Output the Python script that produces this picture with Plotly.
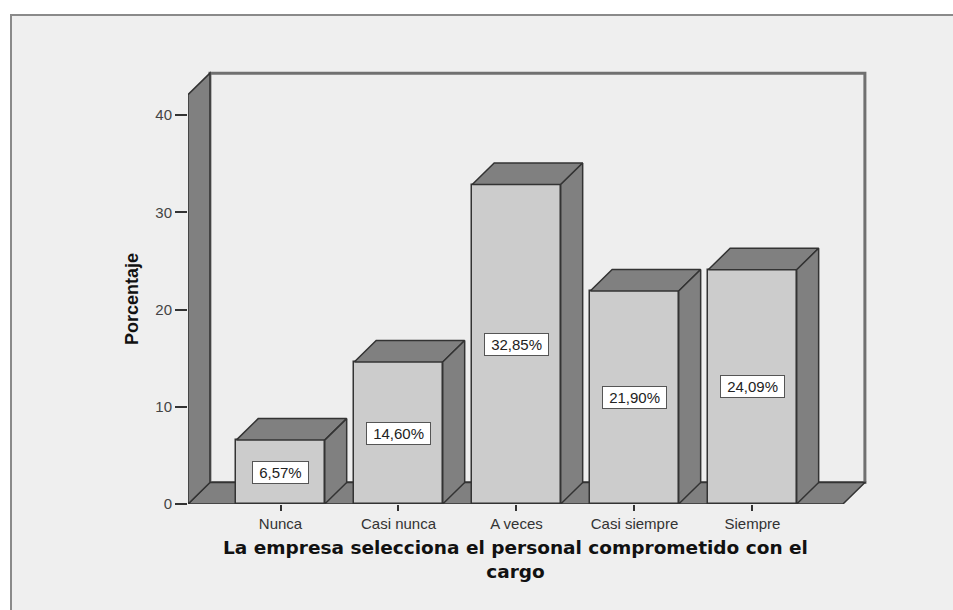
import plotly.graph_objects as go

# ---- data ----
categories = ["Nunca", "Casi nunca", "A veces", "Casi siempre", "Siempre"]
porcentajes = [6.57, 14.60, 32.85, 21.90, 24.09]
y_ticks = [0, 10, 20, 30, 40]
x_title_lines = ["La empresa selecciona el personal comprometido con el", "cargo"]
y_title = "Porcentaje"

# ---- geometry / styling ----
W, H = 953, 610
M_L, M_R, M_T, M_B = 188, 73, 60, 106
X_RANGE = [-0.784, 5.081]
Y_RANGE = [0, 45.66]
BAR_W = 0.75
DX, DY = 0.186, 2.21           # 3-D depth offset (category units, percent units)
FLOOR_X0, FLOOR_X1 = -0.784, 4.767
WALL_TOP = 42.1

FRONT = "#cccccc"
SIDE = "#808080"
EDGE = "#333333"
BG = "#efefef"
FONT = "Liberation Sans, Arial, sans-serif"

pw = W - M_L - M_R
ph = H - M_T - M_B


def px_x(px):
    return (px - M_L) / pw


def px_y(py):
    return (H - M_B - py) / ph


def path(pts):
    return "M " + " L ".join(f"{x},{y}" for x, y in pts) + " Z"


fig = go.Figure()

# front faces of the bars
fig.add_trace(go.Bar(
    x=list(range(len(categories))), y=porcentajes, width=BAR_W,
    marker=dict(color=FRONT, line=dict(color=EDGE, width=1.5)),
    hoverinfo="skip", showlegend=False,
))

# top and side faces
for i, v in enumerate(porcentajes):
    l, r = i - BAR_W / 2, i + BAR_W / 2
    top = [(l, v), (l + DX, v + DY), (r + DX, v + DY), (r, v), (l, v)]
    side = [(r, 0), (r, v), (r + DX, v + DY), (r + DX, DY), (r, 0)]
    for poly in (top, side):
        fig.add_trace(go.Scatter(
            x=[p[0] for p in poly], y=[p[1] for p in poly],
            mode="lines", fill="toself", fillcolor=SIDE,
            line=dict(color=EDGE, width=1.5),
            hoverinfo="skip", showlegend=False,
        ))

shapes = []
# outer chart frame
shapes.append(dict(
    type="rect", xref="paper", yref="paper", layer="below",
    x0=px_x(11), x1=px_x(W + 10), y0=px_y(H + 10), y1=px_y(15),
    fillcolor=BG, line=dict(color="#8a8a8a", width=2),
))
# back wall
shapes.append(dict(
    type="path", xref="x", yref="y", layer="below",
    path=path([(FLOOR_X0 + DX, DY), (FLOOR_X0 + DX, WALL_TOP + DY),
               (FLOOR_X1 + DX, WALL_TOP + DY), (FLOOR_X1 + DX, DY)]),
    fillcolor="#eeeeee", line=dict(color="#707070", width=3),
))
# floor
shapes.append(dict(
    type="path", xref="x", yref="y", layer="below",
    path=path([(FLOOR_X0, 0), (FLOOR_X1, 0), (FLOOR_X1 + DX, DY), (FLOOR_X0 + DX, DY)]),
    fillcolor=SIDE, line=dict(color=EDGE, width=1.5),
))
# left wall
shapes.append(dict(
    type="path", xref="x", yref="y", layer="below",
    path=path([(FLOOR_X0, 0), (FLOOR_X0, WALL_TOP), (FLOOR_X0 + DX, WALL_TOP + DY),
               (FLOOR_X0 + DX, DY)]),
    fillcolor=SIDE, line=dict(color=EDGE, width=1.5),
))

annotations = []
# value labels in the middle of each bar
for i, v in enumerate(porcentajes):
    label = f"{v:.2f}".replace(".", ",") + "%"
    annotations.append(dict(
        x=i, y=v / 2, xref="x", yref="y", showarrow=False,
        text="\u00a0" + label + "\u00a0",
        font=dict(family=FONT, size=15, color="#222222"),
        bgcolor="white", bordercolor="#555555", borderwidth=1, borderpad=2,
        xanchor="center", yanchor="middle",
    ))
# axis titles
annotations.append(dict(
    x=px_x(132), y=px_y(299), xref="paper", yref="paper", showarrow=False,
    text=y_title, textangle=-90,
    font=dict(family=FONT, size=18, color="#111111", weight="bold"),
    xanchor="center", yanchor="middle",
))
annotations.append(dict(
    x=px_x(515), y=px_y(559), xref="paper", yref="paper", showarrow=False,
    text="<br>".join(x_title_lines),
    font=dict(family="DejaVu Sans, sans-serif", size=18.5, color="#111111", weight="bold"),
    xanchor="center", yanchor="middle", align="center",
))

fig.update_layout(
    width=W, height=H,
    margin=dict(l=M_L, r=M_R, t=M_T, b=M_B, pad=0),
    paper_bgcolor="white", plot_bgcolor="rgba(0,0,0,0)",
    shapes=shapes, annotations=annotations,
    showlegend=False, bargap=0,
    xaxis=dict(
        range=X_RANGE, tickvals=list(range(len(categories))), ticktext=categories,
        showgrid=False, zeroline=False, showline=False,
        ticks="outside", ticklen=6, tickwidth=1.5, tickcolor=EDGE,
        tickfont=dict(family=FONT, size=15, color="#333333"),
        fixedrange=True,
    ),
    yaxis=dict(
        range=Y_RANGE, tickvals=y_ticks,
        showgrid=False, zeroline=False, showline=False,
        ticks="outside", ticklen=12, tickwidth=1.5, tickcolor=EDGE,
        tickfont=dict(family=FONT, size=15, color="#444444"),
        fixedrange=True,
    ),
)

fig.write_html("out.html", config=dict(displayModeBar=False))
